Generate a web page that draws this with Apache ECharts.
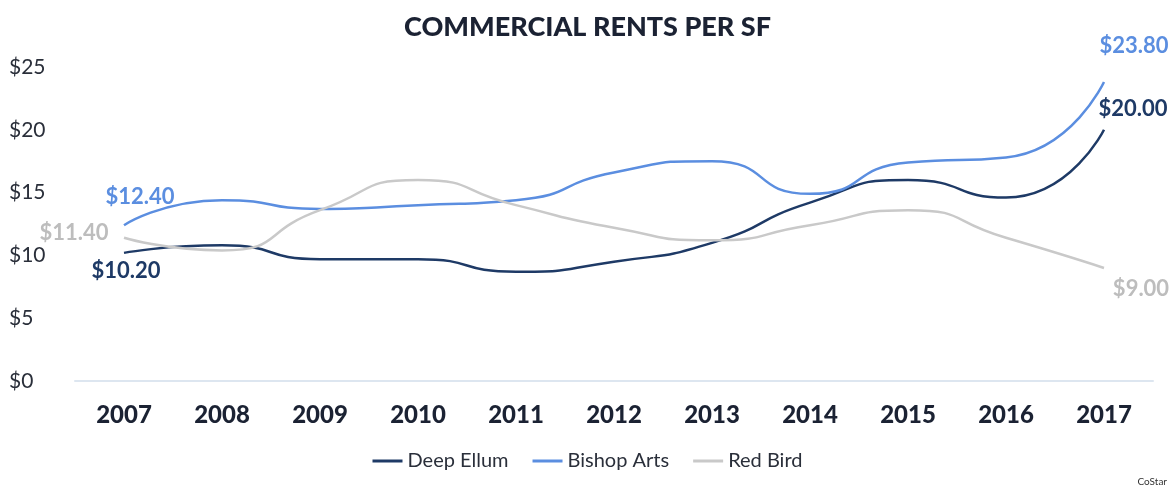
<!DOCTYPE html>
<html>
<head>
<meta charset="utf-8">
<script src="https://cdn.jsdelivr.net/npm/echarts@6/dist/echarts.min.js"></script>
<style>
  html, body { margin: 0; padding: 0; background: #fff; }
  #main { width: 1175px; height: 491px; }
</style>
</head>
<body>
<div id="main"></div>
<script>
var years = ['2007', '2008', '2009', '2010', '2011', '2012', '2013', '2014', '2015', '2016', '2017'];
var deepEllum = [10.2, 10.8, 9.7, 9.7, 8.7, 9.5, 11.0, 14.2, 16.0, 14.6, 20.0];
var bishopArts = [12.4, 14.4, 13.7, 14.0, 14.4, 16.6, 17.5, 14.9, 17.4, 17.8, 23.8];
var redBird = [11.4, 10.4, 13.6, 16.0, 14.0, 12.2, 11.2, 12.4, 13.6, 11.4, 9.0];

// 只在首尾两个点显示标签
function endLabels(values, color, firstOffset, lastOffset) {
    return values.map(function (v, i) {
        if (i !== 0 && i !== values.length - 1) return v;
        return {
            value: v,
            label: {
                show: true,
                position: 'top',
                color: color,
                fontFamily: 'Lato',
                fontWeight: 'bold',
                fontSize: 22,
                offset: i === 0 ? firstOffset : lastOffset,
                formatter: function (p) { return '$' + p.value.toFixed(2); }
            }
        };
    });
}

var myChart = echarts.init(document.getElementById('main'));

var option = {
    backgroundColor: '#fff',
    title: {
        text: 'COMMERCIAL RENTS PER SF',
        left: 'center',
        top: 9,
        textStyle: { fontFamily: 'Lato', fontWeight: 900, fontSize: 27, color: '#1b2233' }
    },
    legend: {
        bottom: 15,
        left: 'center',
        icon: 'rect',
        itemWidth: 30,
        itemHeight: 3,
        itemGap: 24,
        itemTextGap: 4,
        textStyle: { fontFamily: 'Lato', fontSize: 20, color: '#2a2f3a' },
        data: ['Deep Ellum', 'Bishop Arts', 'Red Bird']
    },
    graphic: [{
        type: 'text',
        right: 8,
        bottom: 4,
        style: { text: 'CoStar', fontFamily: 'Lato', fontSize: 10, fill: '#333' }
    }],
    grid: { left: 75, right: 22, top: 67, bottom: 110 },
    xAxis: {
        type: 'category',
        data: years,
        axisLine: { lineStyle: { color: '#dde6f0', width: 2 } },
        axisTick: { show: false },
        axisLabel: { margin: 22, fontFamily: 'Lato', fontWeight: 900, fontSize: 24, color: '#1b2233' }
    },
    yAxis: {
        type: 'value',
        min: 0,
        max: 25,
        interval: 5,
        splitLine: { show: false },
        axisLabel: {
            margin: 12,
            fontFamily: 'Lato',
            fontSize: 21,
            color: '#2a2f3a',
            align: 'left',
            padding: [0, 0, 0, -54],
            formatter: function (v) { return '$' + v; }
        }
    },
    series: [{
        name: 'Deep Ellum',
        type: 'line',
        smooth: 0.6,
        symbol: 'circle',
        symbolSize: 0,
        color: '#1e3a66',
        lineStyle: { width: 2.5, color: '#1e3a66' },
        data: endLabels(deepEllum, '#1e3a66', [2, 34], [29, -5])
    }, {
        name: 'Bishop Arts',
        type: 'line',
        smooth: 0.6,
        symbol: 'circle',
        symbolSize: 0,
        color: '#5b8ee0',
        lineStyle: { width: 2.5, color: '#5b8ee0' },
        data: endLabels(bishopArts, '#5b8ee0', [16, -12], [30, -20])
    }, {
        name: 'Red Bird',
        type: 'line',
        smooth: 0.6,
        symbol: 'circle',
        symbolSize: 0,
        color: '#c9c9c9',
        lineStyle: { width: 2.5, color: '#c9c9c9' },
        data: endLabels(redBird, '#bdbdbd', [-50, 11], [37, 37])
    }]
};

myChart.setOption(option);
</script>
</body>
</html>
